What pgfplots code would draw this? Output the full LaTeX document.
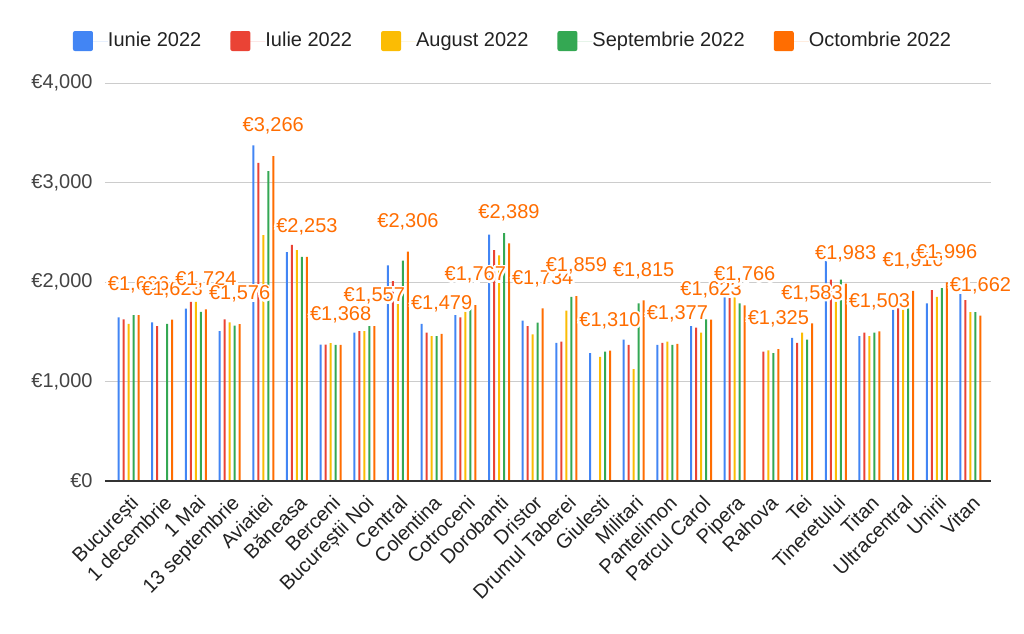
\documentclass[border=0pt]{standalone}
\usepackage{fontspec}
\setmainfont{Liberation Sans}
\usepackage{pgfplots}
\pgfplotsset{compat=1.18}
\definecolor{cblue}{HTML}{4285F4}
\definecolor{cred}{HTML}{EA4335}
\definecolor{cyellow}{HTML}{FBBC04}
\definecolor{cgreen}{HTML}{34A853}
\definecolor{corange}{HTML}{FF6D01}
\definecolor{gridgray}{HTML}{CCCCCC}
\definecolor{axisdark}{HTML}{333333}
\definecolor{ylab}{HTML}{444444}
\definecolor{xlab}{HTML}{222222}
\definecolor{legtext}{HTML}{222222}
\font\halofont="Liberation Sans:embolden=20" at 10pt

\pgfplotstableread{
x blue red yellow green orange
0 1645 1625 1578 1666 1666
1 1595 1557 nan 1578 1623
2 1733 1801 1801 1699 1724
3 1507 1625 1595 1561 1576
4 3372 3196 2470 3115 3266
5 2301 2372 2321 2253 2253
6 1370 1370 1385 1368 1368
7 1490 1507 1507 1557 1557
8 2166 2008 1780 2216 2306
9 1578 1490 1456 1456 1479
10 1666 1645 1699 1730 1767
11 2476 2321 2267 2490 2389
12 1612 1557 1473 1591 1734
13 1389 1402 1713 1851 1859
14 1284 nan 1247 1301 1310
15 1422 1368 1125 1784 1815
16 1368 1389 1402 1368 1377
17 1557 1541 1490 1625 1623
18 1845 1838 1845 1784 1766
19 nan 1301 1314 1284 1325
20 1439 1389 1490 1422 1583
21 2209 2024 1800 2024 1983
22 1456 1490 1456 1490 1503
23 1720 1736 1720 1736 1910
24 1784 1919 1851 1939 1996
25 1878 1818 1696 1696 1662
}\datatable

\begin{document}
\begin{tikzpicture}
\begin{axis}[
  at={(0pt,0pt)}, anchor=south west,
  scale only axis, width=443pt, height=199pt,
  xmin=-0.70, xmax=25.61, ymin=0, ymax=4000,
  ybar=1.5pt, bar width=1pt,
  axis line style={draw=none},
  major tick length=0pt,
  ytick={0,1000,2000,3000,4000},
  yticklabels={€0,{€1,000},{€2,000},{€3,000},{€4,000}},
  ymajorgrids, grid style={draw=gridgray, line width=0.5pt},
  xtick={0,...,25},
  xticklabels={București,1 decembrie,1 Mai,13 septembrie,Aviatiei,Băneasa,Berceni,Bucureștii Noi,Central,Colentina,Cotroceni,Dorobanti,Dristor,Drumul Taberei,Giulesti,Militari,Pantelimon,Parcul Carol,Pipera,Rahova,Tei,Tineretului,Titan,Ultracentral,Unirii,Vitan},
  xticklabel style={xshift=0.3pt, yshift=-6.3pt, rotate=45, anchor=north east, inner sep=0pt, text=xlab},
  yticklabel style={anchor=east, inner sep=0pt, xshift=-6pt, text=ylab},
  /pgf/number format/1000 sep={,},
  /pgf/number format/assume math mode=true,
  unbounded coords=discard,
  legend columns=5,
  legend style={at={(0.4594,1.1055)}, anchor=center, draw=none, fill=none,
    /tikz/every even column/.append style={column sep=14.5pt},
    nodes={inner sep=0pt, text=legtext}},
  legend cell align=left,
  legend image code/.code={\fill[#1,draw=none,rounded corners=1pt] (0pt,-5pt) rectangle (10pt,5pt); \path (0pt,0pt) -- (17.5pt,0pt);},
]
\addplot[fill=cblue, draw=none] table[x=x, y=blue] {\datatable};
\addlegendentry{Iunie 2022}
\addplot[fill=cred, draw=none] table[x=x, y=red] {\datatable};
\addlegendentry{Iulie 2022}
\addplot[fill=cyellow, draw=none] table[x=x, y=yellow] {\datatable};
\addlegendentry{August 2022}
\addplot[fill=cgreen, draw=none] table[x=x, y=green] {\datatable};
\addlegendentry{Septembrie 2022}
\addplot[fill=corange, draw=none,
  nodes near coords={\rlap{\color{white}\halofont €\pgfmathprintnumber{\pgfplotspointmeta}}€\pgfmathprintnumber{\pgfplotspointmeta}},
  every node near coord/.append style={text=corange, anchor=center, yshift=15pt, inner sep=0pt}
  ] table[x=x, y=orange] {\datatable};
\addlegendentry{Octombrie 2022}
\draw[color=axisdark, line width=1pt] (rel axis cs:0,0) -- (rel axis cs:1,0);
\end{axis}
\pgfresetboundingbox
\path[use as bounding box] (-52.5pt,-76pt) rectangle (459.5pt,240.5pt);
\end{tikzpicture}
\end{document}
